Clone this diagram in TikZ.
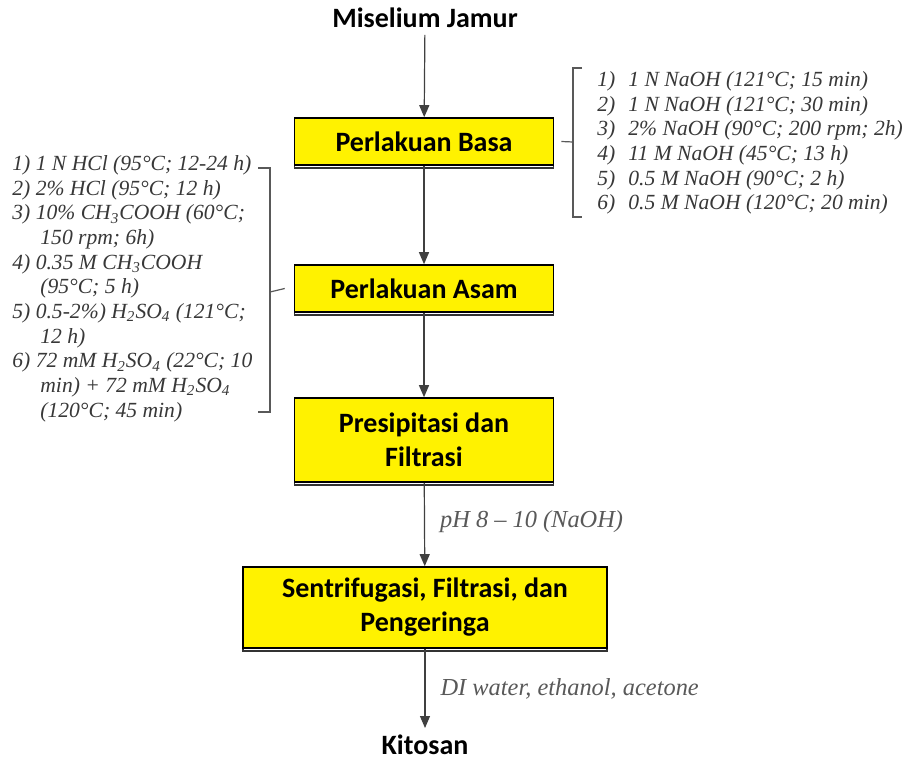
\documentclass[tikz,border=0pt]{standalone}
\usepackage{fontspec}
\setmainfont{Carlito}
\newfontfamily\notefont{Liberation Serif}
\usetikzlibrary{arrows.meta, positioning}

\begin{document}
\begin{tikzpicture}[
  x=0.5pt, y=-0.5pt,
  >={Triangle[width=5pt,length=6pt]},
  %-- styles --------------------------------------------------------------
  stepbox/.style = {draw, line width=0.8pt, fill=yellow, align=center,
                    inner sep=0pt, font=\bfseries\fontsize{14}{17}\selectfont,
                    preaction={draw=black!80, fill=white, line width=0.8pt,
                               transform canvas={yshift=-1.5pt}}},
  endlab/.style  = {font=\bfseries\fontsize{14}{16}\selectfont},
  notes/.style   = {font=\notefont\itshape\fontsize{10.8}{12.35}\selectfont,
                    text=black!78, align=left, inner sep=0pt},
  flowlab/.style = {font=\notefont\itshape\fontsize{12.2}{14}\selectfont,
                    text=black!65, inner sep=0pt},
  arrow/.style   = {->, line width=0.6pt, draw=black!75},
  brace/.style   = {line width=0.6pt, draw=black!65},
]
\useasboundingbox[fill=white] (0,0) rectangle (908,759);

% ── main chain ──────────────────────────────────────────────────────────
\node[endlab] (miselium) at (425,18) {Miselium Jamur};
\node[stepbox, minimum width=129.5pt, minimum height=23.5pt] (basa) at (424,141.5) {Perlakuan Basa};
\node[stepbox, minimum width=129.5pt, minimum height=23.5pt] (asam) at (424,288.5) {Perlakuan Asam};
\node[stepbox, minimum width=129.5pt, minimum height=42pt] (presip) at (424,440) {Presipitasi dan\\Filtrasi};
\node[stepbox, minimum width=182pt, minimum height=40.5pt] (sentri) at (425,607.5) {Sentrifugasi, Filtrasi, dan\\Pengeringa};
\node[endlab] (kitosan) at (425,745) {Kitosan};

\draw[arrow] (miselium) -- (basa);
\draw[arrow] (basa) -- (asam);
\draw[arrow] (asam) -- (presip);
\draw[arrow] (presip) -- node[flowlab, right, xshift=7.5pt, pos=0.46] (phlab) {pH 8 – 10 (NaOH)} (sentri);
\draw[arrow] (sentri) -- node[flowlab, right, xshift=7.5pt, pos=0.5] (wash) {DI water, ethanol, acetone} (kitosan);

% ── base treatment options (right) ──────────────────────────────────────
\node[notes, anchor=north west] (basalist) at (597,71) {%
  \makebox[15.5pt][l]{1)}1 N NaOH (121°C; 15 min)\\
  \makebox[15.5pt][l]{2)}1 N NaOH (121°C; 30 min)\\
  \makebox[15.5pt][l]{3)}2\% NaOH (90°C; 200 rpm; 2h)\\
  \makebox[15.5pt][l]{4)}11 M NaOH (45°C; 13 h)\\
  \makebox[15.5pt][l]{5)}0.5 M NaOH (90°C; 2 h)\\
  \makebox[15.5pt][l]{6)}0.5 M NaOH (120°C; 20 min)};

\coordinate (rbr) at (573,142);
\draw[brace] (582,68) -- (573,68) -- (573,217) -- (582,217);
\draw[brace] (basa.east) ++(7,0) -- (rbr);

% ── acid treatment options (left) ───────────────────────────────────────
\node[notes, anchor=north west] (asamlist) at (12,155) {%
  1) 1 N HCl (95°C; 12-24 h)\\
  2) 2\% HCl (95°C; 12 h)\\
  3) 10\% CH\textsubscript{3}COOH (60°C;\\
  \hspace*{14pt}150 rpm; 6h)\\
  4) 0.35 M CH\textsubscript{3}COOH\\
  \hspace*{14pt}(95°C; 5 h)\\
  5) 0.5-2\%) H\textsubscript{2}SO\textsubscript{4} (121°C;\\
  \hspace*{14pt}12 h)\\
  6) 72 mM H\textsubscript{2}SO\textsubscript{4} (22°C; 10\\
  \hspace*{14pt}min) + 72 mM H\textsubscript{2}SO\textsubscript{4}\\
  \hspace*{14pt}(120°C; 45 min)};

\coordinate (lbr) at (270,292);
\draw[brace] (258,168) -- (270,168) -- (270,412) -- (258,412);
\draw[brace] (asam.west) ++(-9,0) -- (lbr);

\end{tikzpicture}
\end{document}
